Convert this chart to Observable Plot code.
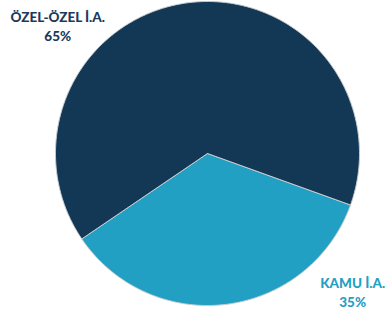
<!DOCTYPE html>
<html>
<head>
<meta charset="utf-8">
<script src="https://cdn.jsdelivr.net/npm/d3@7"></script>
<script src="https://cdn.jsdelivr.net/npm/@observablehq/plot@0.6"></script>
<style>
  html, body { margin: 0; padding: 0; background: #fff; overflow: hidden; }
</style>
</head>
<body>
<div id="chart"></div>
<script>
const categories = ["KAMU İ.A.", "ÖZEL-ÖZEL İ.A."];
const values = [35, 65];
const percentLabels = ["35%", "65%"];
const colors = ["#22a0c3", "#133856"];
const labelColors = ["#22a0c3", "#1b3a5c"];

// layout
const startDeg = 109.8;           // first slice starts here (clockwise from 12 o'clock)
const labelPos = [[0.955, -0.92], [-0.985, 0.83]]; // label anchors in pie units

const total = d3.sum(values);
const pts = [];
let a0 = startDeg;
values.forEach((v, i) => {
  const span = v / total * 360;
  const a1 = a0 + span;
  pts.push({slice: i, x: 0, y: 0});
  const n = Math.ceil(span * 2);
  for (let k = 0; k <= n; k++) {
    const a = (a0 + span * k / n) * Math.PI / 180;
    pts.push({slice: i, x: Math.sin(a), y: Math.cos(a)});
  }
  pts.push({slice: i, x: 0, y: 0});
  a0 = a1;
});

const labels = categories.map((c, i) => ({
  name: c, pct: percentLabels[i], x: labelPos[i][0], y: labelPos[i][1], color: labelColors[i]
}));

const plot = Plot.plot({
  width: 387,
  height: 311,
  marginLeft: 55,
  marginRight: 28,
  marginTop: 1,
  marginBottom: 6,
  x: {domain: [-1, 1], axis: null},
  y: {domain: [-1, 1], axis: null},
  style: {background: "#fff", overflow: "visible"},
  marks: [
    Plot.line(pts, {
      x: "x", y: "y", z: "slice",
      fill: d => colors[d.slice],
      stroke: "#c8ccd0", strokeWidth: 1, strokeLinejoin: "round",
      curve: "linear"
    }),
    Plot.text(labels, {
      x: "x", y: "y", text: "name", fill: "color", dy: -10,
      fontSize: 13.5, fontWeight: 900, fontFamily: "Lato"
    }),
    Plot.text(labels, {
      x: "x", y: "y", text: "pct", fill: "color", dy: 9,
      fontSize: 13.5, fontWeight: 900, fontFamily: "Lato"
    })
  ]
});
document.getElementById("chart").appendChild(plot);
</script>
</body>
</html>
